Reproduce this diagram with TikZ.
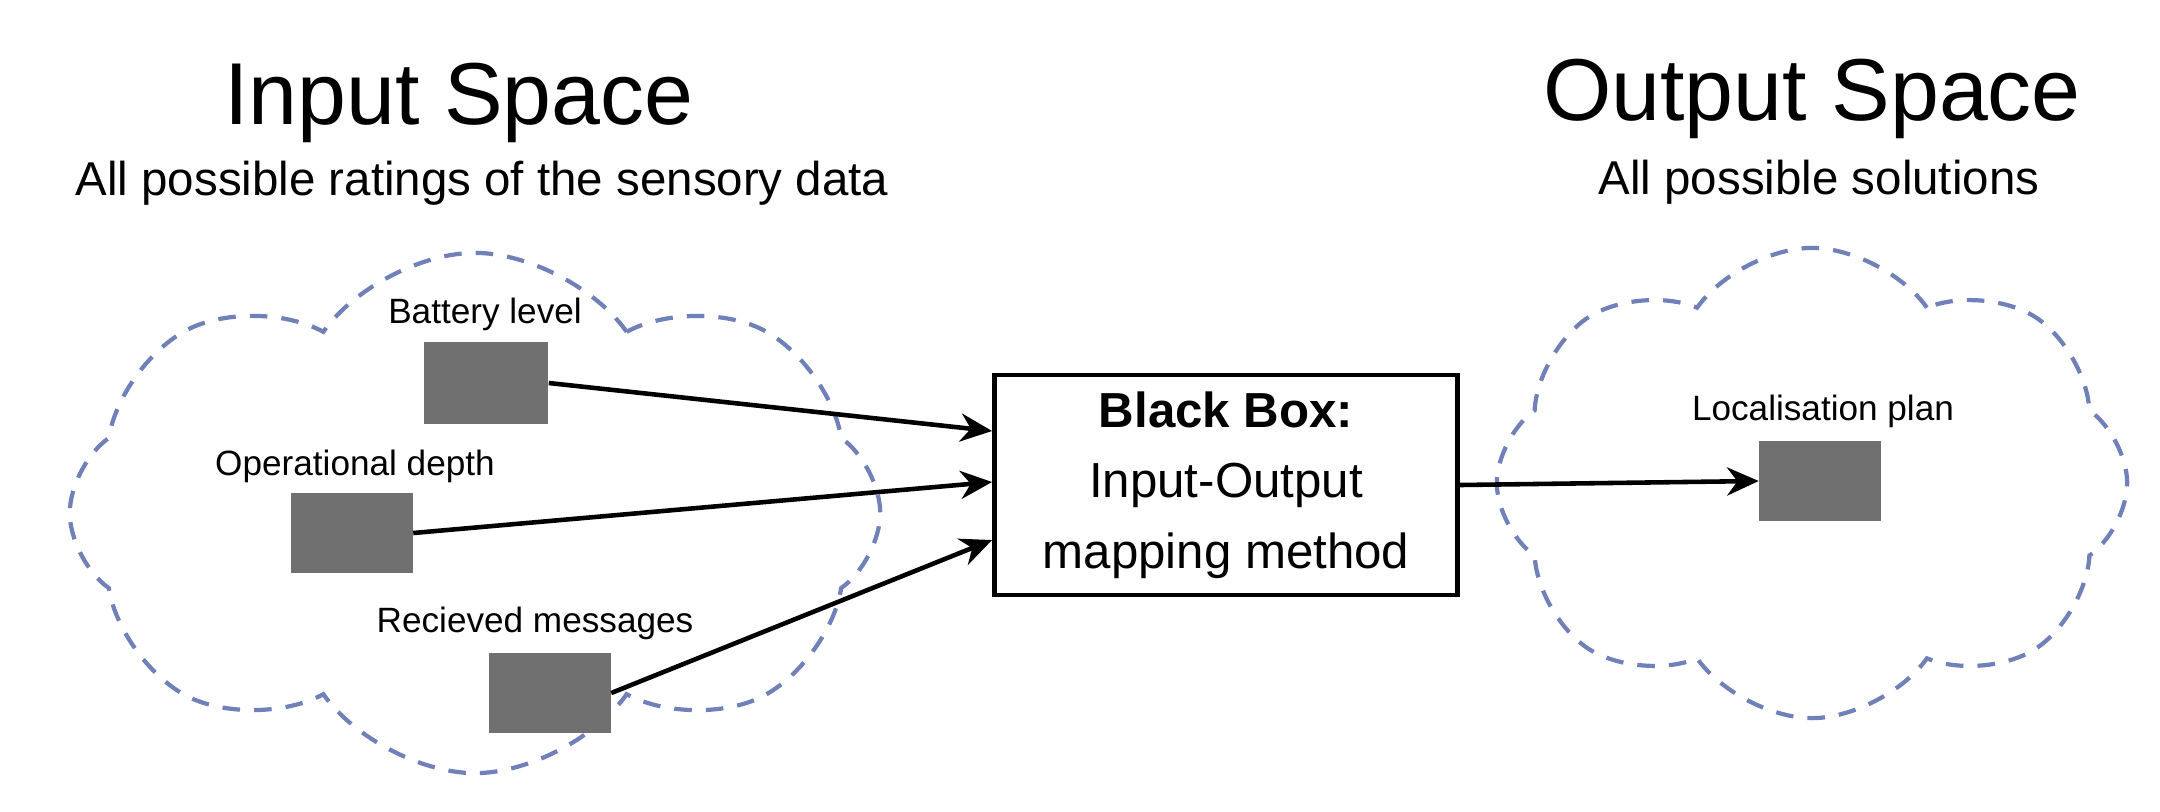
\documentclass[tikz,border=0pt]{standalone}
\usepackage{fontspec}
\setmainfont{Liberation Sans}
\usetikzlibrary{shapes.symbols,arrows.meta}
\definecolor{cl}{HTML}{7080B8}
\definecolor{gb}{HTML}{707070}
\begin{document}
\begin{tikzpicture}[x=0.01cm,y=-0.01cm,
  cloudy/.style={cloud,cloud puffs=8,cloud puff arc=110,draw=cl,line width=1.2pt,dash pattern=on 5pt off 4pt,inner sep=0pt},
  gbox/.style={fill=gb,draw=none,inner sep=0pt},
  lab/.style={font=\fontsize{10}{12}\selectfont},
  arr/.style={-{Stealth[length=9pt,width=8pt]},line width=1.3pt}]
\useasboundingbox (0,0) rectangle (2160,811);
\node[cloudy,minimum width=8.1cm,minimum height=5.2cm] (c1) at (475,513) {};
\node[cloudy,minimum width=6.3cm,minimum height=4.7cm] (c2) at (1812,483) {};
\node (t1) at (459,103) {\fontsize{25}{30}\selectfont Input Space};
\node (s1) at (482,183) {\fontsize{13.5}{16}\selectfont All possible ratings of the sensory data};
\node (t2) at (1812,99) {\fontsize{25}{30}\selectfont Output Space};
\node (s2) at (1819,182) {\fontsize{13.5}{16}\selectfont All possible solutions};
\node[gbox,minimum width=1.24cm,minimum height=0.81cm] (b1) at (486,383) {};
\node[lab] (l1) at (485,314) {Battery level};
\node[gbox,minimum width=1.21cm,minimum height=0.8cm] (b2) at (352,533) {};
\node[lab] (l2) at (355,466) {Operational depth};
\node[gbox,minimum width=1.21cm,minimum height=0.8cm] (b3) at (550,693) {};
\node[lab] (l3) at (535,623) {Recieved messages};
\node[gbox,minimum width=1.21cm,minimum height=0.8cm] (b4) at (1820,481) {};
\node[lab] (l4) at (1823,411) {Localisation plan};
\node[draw,line width=1.3pt,minimum width=4.63cm,minimum height=2.2cm,align=center,
  font=\fontsize{14}{20}\selectfont] (bb) at (1226,485)
  {\textbf{Black Box:}\\Input-Output\\mapping method};
\draw[arr] (b1.east) -- (bb.west|-0,431);
\draw[arr] (b2.east) -- (bb.west|-0,482);
\draw[arr] (b3.east) -- (bb.west|-0,540);
\draw[arr] (bb.east) -- (b4.west);
\end{tikzpicture}
\end{document}
